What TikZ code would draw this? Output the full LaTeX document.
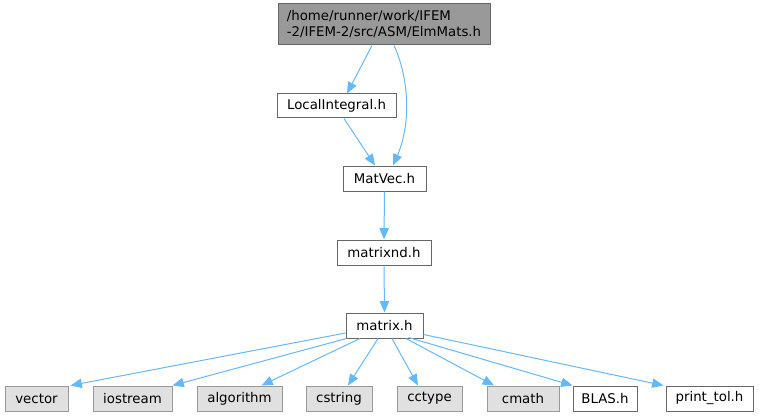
\documentclass[tikz,border=0pt]{standalone}
\usepackage{fontspec}
\setmainfont{DejaVu Sans}
\usetikzlibrary{arrows.meta,calc}
\definecolor{edgecol}{HTML}{63B8FF}
\definecolor{sysfill}{HTML}{E0E0E0}
\definecolor{sysdraw}{HTML}{999999}
\definecolor{usrdraw}{HTML}{666666}
\definecolor{topfill}{HTML}{999999}
\tikzset{
  wd/.style={minimum width=#1*0.75pt},
  ht/.style={minimum height=#1*0.75pt},
  base/.style={inner sep=0pt, font=\fontsize{10pt}{12pt}\selectfont, line width=0.75pt, text=black},
  usrbox/.style={base, draw=usrdraw, fill=white, ht=25},
  sysbox/.style={base, draw=sysdraw, fill=sysfill, ht=25},
  topbox/.style={base, draw=usrdraw, fill=topfill, align=left},
  dep/.style={draw=edgecol, line width=0.75pt, -{Triangle[length=8.5pt,width=7pt]}}
}
\begin{document}
\begin{tikzpicture}[x=0.75pt,y=-0.75pt]
\useasboundingbox (0,0) rectangle (759,417);
% nodes
\node[topbox, wd=212, ht=41] (top) at (384,24.5) {/home/runner/work/IFEM\\-2/IFEM-2/src/ASM/ElmMats.h};
\node[usrbox, wd=119, ht=24] (LI) at (336.5,106) {LocalIntegral.h};
\node[usrbox, wd=83] (MV) at (384.5,178.5) {MatVec.h};
\node[usrbox, wd=94] (ND) at (384,252.5) {matrixnd.h};
\node[usrbox, wd=77] (MX) at (384.5,325.5) {matrix.h};
\node[sysbox, wd=63] (vec) at (36.5,398.5) {vector};
\node[sysbox, wd=79] (io) at (132.5,398.5) {iostream};
\node[sysbox, wd=85] (alg) at (239.5,398.5) {algorithm};
\node[sysbox, wd=66] (cs) at (339,398.5) {cstring};
\node[sysbox, wd=65] (cc) at (429.5,398.5) {cctype};
\node[sysbox, wd=72] (cm) at (523,398.5) {cmath};
\node[usrbox, wd=64] (bl) at (605,398.5) {BLAS.h};
\node[usrbox, wd=87] (pt) at (709.5,398.5) {print\_tol.h};
% edges
\draw[dep] ($(top.south)+(-12,0)$) -- ($(LI.north)+(10.5,0)$);
\draw[dep] ($(top.south)+(10,0)$) .. controls ($(top.south)+(26,35)$) and ($(MV.north)+(26,-40)$) .. ($(MV.north)+(8.5,0)$);
\draw[dep] ($(LI.south)+(7.5,0)$) -- ($(MV.north)+(-9.5,0)$);
\draw[dep] (MV.south) -- (ND.north);
\draw[dep] (ND.south) -- (MX.north);
\draw[dep] ($(MX.west)+(0,7.5)$) -- ($(vec.north east)+(2,0)$);
\draw[dep] ($(MX.south west)+(1,0)$) -- (io.north east);
\draw[dep] ($(MX.south)+(-24.5,0)$) -- ($(alg.north)+(22,0)$);
\draw[dep] ($(MX.south)+(-6.5,0)$) -- ($(cs.north)+(9,0)$);
\draw[dep] ($(MX.south)+(7.5,0)$) -- ($(cc.north)+(-11.5,0)$);
\draw[dep] ($(MX.south)+(21.5,0)$) -- ($(cm.north)+(-29,0)$);
\draw[dep] ($(MX.south east)+(-15,-1)$) -- (bl.north west);
\draw[dep] ($(MX.east)+(0,9)$) -- ($(pt.north west)+(-2,0)$);
\end{tikzpicture}
\end{document}
